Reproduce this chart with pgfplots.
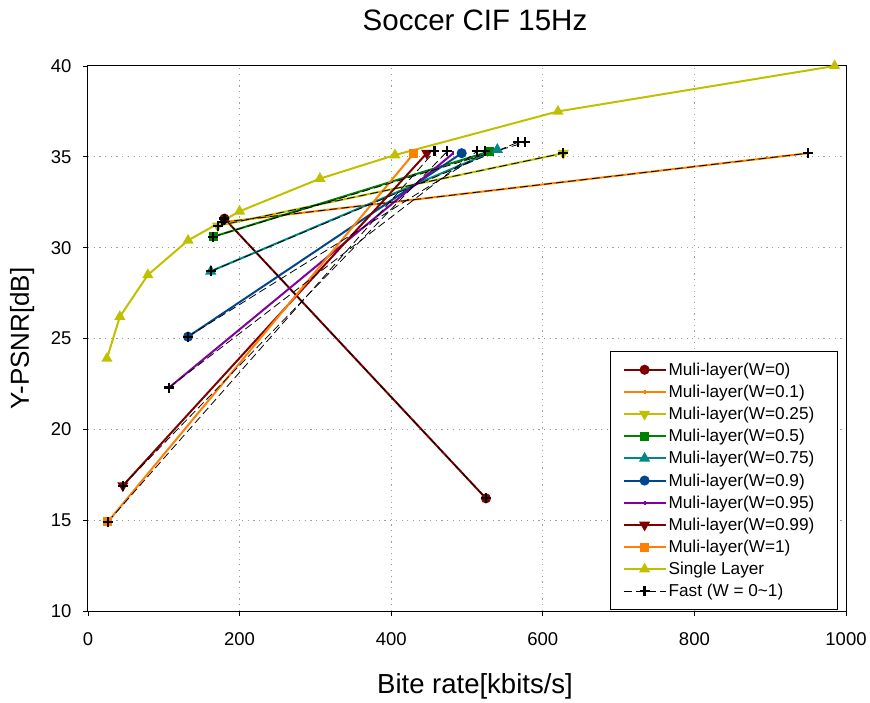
\documentclass[border=0pt]{standalone}
\usepackage{fontspec}
\setmainfont{Liberation Sans}
\usepackage{pgfplots}
\pgfplotsset{compat=1.18}
\usetikzlibrary{calc}
\definecolor{cDR}{RGB}{128,0,0}
\definecolor{cOR}{RGB}{255,128,0}
\definecolor{cYG}{RGB}{192,192,0}
\definecolor{cGR}{RGB}{0,128,0}
\definecolor{cTE}{RGB}{0,136,136}
\definecolor{cBL}{RGB}{0,70,140}
\definecolor{cPU}{RGB}{128,0,160}
\begin{document}
\begin{tikzpicture}
\begin{axis}[
  scale only axis, width=758pt, height=545pt,
  xmin=0, xmax=1000, ymin=10, ymax=40,
  xtick={0,200,...,1000}, ytick={10,15,...,40},
  xtick pos=bottom, ytick pos=left,
  grid=major, grid style={gray!75, line width=1pt, dash pattern=on 1.2pt off 4.5pt},
  tick align=outside, major tick length=5pt,
  tick style={black, line width=0.8pt},
  axis line style={line width=1pt},
  /pgf/number format/assume math mode=true,
  /pgf/number format/1000 sep={},
  tick label style={font=\fontsize{18.5}{20}\selectfont},
  xticklabel style={yshift=-13pt},
  yticklabel style={xshift=-8pt},
  xlabel={Bite rate[kbits/s]}, ylabel={Y-PSNR[dB]},
  xlabel style={font=\fontsize{27.5}{30}\selectfont, at={(axis description cs:0.5,-0.1358)}, anchor=center, xshift=8pt, yshift=-1pt},
  ylabel style={font=\fontsize{26}{28}\selectfont, at={(axis description cs:-0.087,0.5)}, anchor=center},
  title={Soccer CIF 15Hz},
  title style={font=\fontsize{29.5}{32}\selectfont, at={(axis description cs:0.5,1.0807)}, anchor=center, xshift=8pt, yshift=-4pt},
  legend cell align=left,
  legend style={at={(rel axis cs:1,0)}, anchor=south east, xshift=-8pt, yshift=1pt,
    font=\fontsize{17.2}{20}\selectfont, draw=black, line width=1.3pt,
    row sep=4.2pt, inner xsep=12pt, inner ysep=9pt},
  legend image code/.code={\draw[mark repeat=2,mark phase=2] plot coordinates {(0pt,0pt) (21pt,0pt) (42pt,0pt)};},
  every axis plot/.append style={line width=2pt},
]
% Multi-layer series
\addplot[color=cDR, mark=*, mark size=4pt] coordinates {(180,31.6) (525,16.2)};
\addlegendentry{Muli-layer(W=0)}
\addplot[color=cOR, mark=|, mark size=2pt] coordinates {(177,31.4) (950,35.2)};
\addlegendentry{Muli-layer(W=0.1)}
\addplot[color=cYG, mark=triangle*, mark size=4.5pt, mark options={rotate=180}] coordinates {(171,31.2) (627,35.2)};
\addlegendentry{Muli-layer(W=0.25)\hspace*{9pt}}
\addplot[color=cGR, mark=square*, mark size=3.5pt] coordinates {(165,30.6) (530,35.3)};
\addlegendentry{Muli-layer(W=0.5)}
\addplot[color=cTE, mark=triangle*, mark size=4.5pt] coordinates {(162,28.7) (540,35.4)};
\addlegendentry{Muli-layer(W=0.75)}
\addplot[color=cBL, mark=*, mark size=4pt] coordinates {(132,25.1) (493,35.2)};
\addlegendentry{Muli-layer(W=0.9)}
\addplot[color=cPU, mark=|, mark size=2pt] coordinates {(107,22.3) (482,35.2)};
\addlegendentry{Muli-layer(W=0.95)}
\addplot[color=cDR, mark=triangle*, mark size=4.5pt, mark options={rotate=180}] coordinates {(46,16.9) (447,35.2)};
\addlegendentry{Muli-layer(W=0.99)}
\addplot[color=cOR, mark=square*, mark size=3.5pt] coordinates {(26,14.9) (430,35.2)};
\addlegendentry{Muli-layer(W=1)}
\addplot[color=cYG, mark=triangle*, mark size=4.5pt] coordinates {
  (25,23.9) (42,26.2) (79,28.5) (132,30.4) (200,32.0) (306,33.8) (405,35.1) (620,37.5) (985,40.0)};
\addlegendentry{Single Layer}
% Fast (W = 0~1)
\pgfplotsset{fast/.style={color=black, line width=0.8pt, dash pattern=on 8pt off 4pt,
  mark=+, mark size=5pt, mark options={solid, line width=2.2pt}}}
\addplot[fast] coordinates {(26,14.9) (457,35.3)};
\addlegendentry{Fast (W = 0\textasciitilde 1)}
\addplot[fast, forget plot] coordinates {(46,16.9) (474,35.3)};
\addplot[fast, forget plot] coordinates {(107,22.3) (513,35.3)};
\addplot[fast, forget plot] coordinates {(132,25.1) (524,35.3)};
\addplot[fast, forget plot] coordinates {(162,28.7) (567,35.8)};
\addplot[fast, forget plot] coordinates {(165,30.6) (577,35.8)};
\addplot[fast, forget plot] coordinates {(171,31.2) (627,35.2)};
\addplot[fast, forget plot] coordinates {(177,31.4) (950,35.2)};
\addplot[fast, forget plot] coordinates {(180,31.6) (525,16.2)};
\end{axis}
\pgfresetboundingbox
\path[use as bounding box] ($(current axis.south west)+(-88pt,-91pt)$) rectangle ($(current axis.north east)+(24pt,66pt)$);
\end{tikzpicture}
\end{document}
